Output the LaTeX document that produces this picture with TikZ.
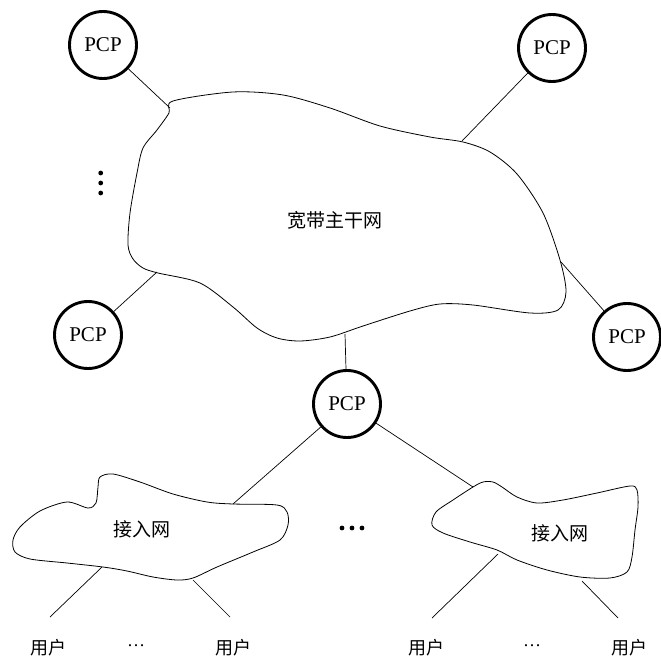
\documentclass[tikz,border=0pt]{standalone}
\usepackage{fontspec}
\setmainfont{Liberation Serif}
\newfontfamily\cjk{Noto Sans CJK SC}
\begin{document}
\begin{tikzpicture}[x=1pt,y=-1pt,
  pcp/.style={circle,draw,line width=2.9pt,minimum size=67pt,inner sep=0pt,font=\fontsize{21}{21}\selectfont},
  link/.style={line width=0.7pt},
  cloudline/.style={line width=0.8pt},
  cnlabel/.style={font=\cjk\fontsize{19}{19}\selectfont,inner sep=0pt},
  userlabel/.style={font=\cjk\fontsize{18}{18}\selectfont,inner sep=0pt},
  gap/.style={font=\fontsize{18}{18}\selectfont,inner sep=0pt}]
\useasboundingbox (0,0) rectangle (661,660);

% backbone network
\draw[cloudline] plot[smooth cycle,tension=0.5] coordinates {
  (169,113) (173,101) (233,92) (283,95) (330,108) (380,126) (430,137)
  (463,142) (490,152) (517,174) (543,213) (560,260) (566,292) (558,310)
  (530,313) (473,305) (440,304) (410,311) (363,326) (330,337) (300,341)
  (277,338) (257,328) (233,307) (200,283) (158,273) (143,268) (133,259)
  (128,245) (130,213) (137,173) (143,148) (157,130)};
\node[cnlabel] (bb) at (335,220) {宽带主干网};
\coordinate (bbtl) at (170,108);
\coordinate (bbtr) at (462,141);
\coordinate (bbl) at (157,272);
\coordinate (bbr) at (561,262);
\coordinate (bbb) at (345,334);

% left access network
\draw[cloudline] plot[smooth cycle,tension=0.5] coordinates {
  (100,477) (113,474) (140,482) (173,494) (207,502) (233,504) (277,505)
  (287,512) (288,525) (280,540) (253,552) (217,567) (193,578) (177,580)
  (153,577) (127,571) (103,567) (67,563) (30,559) (15,552) (13,540)
  (20,527) (40,511) (67,502) (88,508) (96,503) (98,487)};
\node[cnlabel] (anl) at (142,529) {接入网};
\coordinate (anltop) at (233,504);
\coordinate (anlu1) at (102,567);
\coordinate (anlu2) at (193,580);

% right access network
\draw[cloudline] plot[smooth cycle,tension=0.5] coordinates {
  (473,487) (483,482) (493,482) (502,487) (517,497) (537,503) (563,500)
  (597,493) (630,486) (637,490) (638,507) (635,530) (632,557) (627,572)
  (610,578) (580,577) (547,570) (517,560) (497,550) (470,542) (443,533)
  (432,525) (436,512) (453,500)};
\node[cnlabel] (anr) at (560,533) {接入网};
\coordinate (anrtop) at (473,487);
\coordinate (anru1) at (498,554);
\coordinate (anru2) at (582,581);

% PCP nodes
\node[pcp] (p1) at (103,45) {PCP};
\node[pcp] (p2) at (552,48) {PCP};
\node[pcp] (p3) at (88,335) {PCP};
\node[pcp] (p4) at (627,337) {PCP};
\node[pcp] (p5) at (347,404) {PCP};

% links
\draw[link] (p1) -- (bbtl);
\draw[link] (p2) -- (bbtr);
\draw[link] (p3) -- (bbl);
\draw[link] (p4) -- (bbr);
\draw[link] (p5) -- (bbb);
\draw[link] (p5) -- (anltop);
\draw[link] (p5) -- (anrtop);

% users
\coordinate (u1e) at (50,617);
\coordinate (u2e) at (230,617);
\coordinate (u3e) at (432,618);
\coordinate (u4e) at (618,618);
\draw[link] (anlu1) -- (u1e);
\draw[link] (anlu2) -- (u2e);
\draw[link] (anru1) -- (u3e);
\draw[link] (anru2) -- (u4e);
\node[userlabel] (u1) at (48,648) {用户};
\node[userlabel] (u2) at (233,648) {用户};
\node[userlabel] (u3) at (426,648) {用户};
\node[userlabel] (u4) at (629,648) {用户};
\node[gap] (g1) at (136,646) {…};
\node[gap] (g2) at (532,646) {…};

% ellipsis dots
\fill (100.7,173) circle (2.4);
\fill (100.7,183) circle (2.4);
\fill (100.7,193) circle (2.4);
\fill (342,528) circle (2.4);
\fill (352,528) circle (2.4);
\fill (362,528) circle (2.4);
\end{tikzpicture}
\end{document}
